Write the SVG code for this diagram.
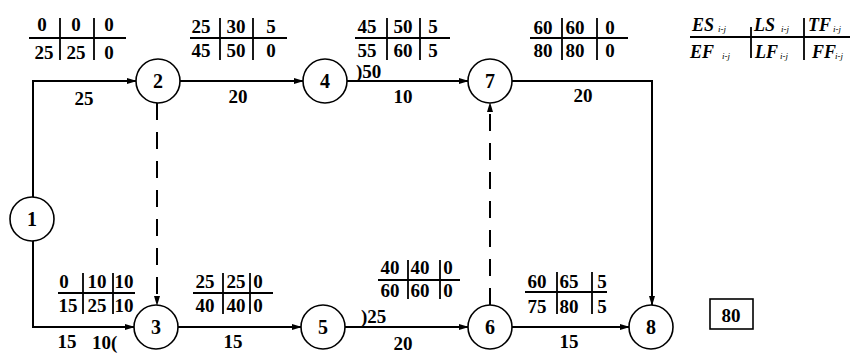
<svg xmlns="http://www.w3.org/2000/svg" width="858" height="354" viewBox="0 0 858 354">
<style>
.n circle{fill:#fff;stroke:#000;stroke-width:1.6}
.n text{font-family:"Liberation Serif",serif;font-weight:bold;font-size:20px;text-anchor:middle}
.e{fill:none;stroke:#000;stroke-width:2}
.d{fill:none;stroke:#000;stroke-width:2;stroke-dasharray:17 12}
.t{font-family:"Liberation Serif",serif;font-weight:bold;font-size:19px;text-anchor:middle}
.l{font-family:"Liberation Serif",serif;font-weight:bold;font-size:19px}
.g line{stroke:#000;stroke-width:1.8}
.lg{font-family:"Liberation Serif",serif;font-weight:bold;font-style:italic;font-size:18px}
.sb{font-family:"Liberation Serif",serif;font-style:italic;font-size:9px}
</style>
<defs>
<marker id="a" markerUnits="userSpaceOnUse" markerWidth="10" markerHeight="6" refX="9" refY="3" orient="auto">
<path d="M0,0 L10,3 L0,6 z" fill="#000"/>
</marker>
</defs>
<g id="connectors">
<path class="e" d="M33,197 V81 H136" marker-end="url(#a)"/>
<path class="e" d="M33,241 V327 H134" marker-end="url(#a)"/>
<path class="e" d="M180,81 H303" marker-end="url(#a)"/>
<path class="e" d="M347,81 H468" marker-end="url(#a)"/>
<path class="e" d="M512,81 H652 V305" marker-end="url(#a)"/>
<path class="d" d="M157,103 V305" marker-end="url(#a)"/>
<path class="d" d="M490,305 V103" marker-end="url(#a)"/>
<path class="e" d="M178,327 H301" marker-end="url(#a)"/>
<path class="e" d="M345,327 H468" marker-end="url(#a)"/>
<path class="e" d="M512,327 H629" marker-end="url(#a)"/>
<text class="t" x="84" y="105">25</text>
<text class="t" x="238" y="103">20</text>
<text class="t" x="403" y="103">10</text>
<text class="l" x="356" y="78">)50</text>
<text class="t" x="583" y="102">20</text>
<text class="t" x="67" y="348">15</text>
<text class="l" x="92" y="349">10(</text>
<text class="t" x="233" y="348">15</text>
<text class="t" x="403" y="350">20</text>
<text class="l" x="361" y="323">)25</text>
<text class="t" x="569" y="348">15</text>
</g>
<g id="n1" class="n"><circle cx="32" cy="219" r="22"/><text x="32" y="226">1</text></g>
<g id="n2" class="n"><circle cx="158" cy="81" r="22"/><text x="158" y="88">2</text></g>
<g id="n4" class="n"><circle cx="325" cy="81" r="22"/><text x="325" y="88">4</text></g>
<g id="n7" class="n"><circle cx="490" cy="81" r="22"/><text x="490" y="88">7</text></g>
<g id="n3" class="n"><circle cx="156" cy="327" r="22"/><text x="156" y="334">3</text></g>
<g id="n5" class="n"><circle cx="323" cy="327" r="22"/><text x="323" y="334">5</text></g>
<g id="n6" class="n"><circle cx="490" cy="327" r="22"/><text x="490" y="334">6</text></g>
<g id="n8" class="n"><circle cx="651" cy="327" r="22"/><text x="651" y="334">8</text></g>
<g id="t12" class="g">
<line x1="29" y1="38" x2="126" y2="38"/><line x1="60" y1="18" x2="60" y2="60"/><line x1="94" y1="18" x2="94" y2="60"/>
<text class="t" x="42" y="31">0</text><text class="t" x="76" y="31">0</text><text class="t" x="109" y="31">0</text>
<text class="t" x="44" y="59">25</text><text class="t" x="76" y="59">25</text><text class="t" x="109" y="59">0</text>
</g>
<g id="t24" class="g">
<line x1="190" y1="38" x2="287" y2="38"/><line x1="220" y1="18" x2="220" y2="60"/><line x1="253" y1="18" x2="253" y2="60"/>
<text class="t" x="201" y="33">25</text><text class="t" x="236" y="33">30</text><text class="t" x="271" y="33">5</text>
<text class="t" x="201" y="57">45</text><text class="t" x="236" y="57">50</text><text class="t" x="271" y="57">0</text>
</g>
<g id="t47" class="g">
<line x1="355" y1="38" x2="450" y2="38"/><line x1="387" y1="18" x2="387" y2="60"/><line x1="420" y1="18" x2="420" y2="60"/>
<text class="t" x="367" y="33">45</text><text class="t" x="403" y="33">50</text><text class="t" x="433" y="33">5</text>
<text class="t" x="367" y="57">55</text><text class="t" x="403" y="57">60</text><text class="t" x="433" y="57">5</text>
</g>
<g id="t78" class="g">
<line x1="530" y1="38" x2="628" y2="38"/><line x1="562" y1="18" x2="562" y2="60"/><line x1="597" y1="18" x2="597" y2="60"/>
<text class="t" x="543" y="34">60</text><text class="t" x="575" y="34">60</text><text class="t" x="610" y="34">0</text>
<text class="t" x="543" y="57">80</text><text class="t" x="575" y="57">80</text><text class="t" x="610" y="57">0</text>
</g>
<g id="t13" class="g">
<line x1="58" y1="293" x2="135" y2="293"/><line x1="83" y1="273" x2="83" y2="314"/><line x1="113" y1="273" x2="113" y2="314"/>
<text class="t" x="64" y="288">0</text><text class="t" x="97" y="288">10</text><text class="t" x="124" y="288">10</text>
<text class="t" x="68" y="312">15</text><text class="t" x="97" y="312">25</text><text class="t" x="124" y="312">10</text>
</g>
<g id="t35" class="g">
<line x1="193" y1="293" x2="273" y2="293"/><line x1="223" y1="273" x2="223" y2="314"/><line x1="250" y1="273" x2="250" y2="314"/>
<text class="t" x="205" y="288">25</text><text class="t" x="236" y="288">25</text><text class="t" x="258" y="288">0</text>
<text class="t" x="205" y="312">40</text><text class="t" x="236" y="312">40</text><text class="t" x="258" y="312">0</text>
</g>
<g id="t56" class="g">
<line x1="378" y1="280" x2="460" y2="280"/><line x1="408" y1="260" x2="408" y2="299"/><line x1="440" y1="260" x2="440" y2="299"/>
<text class="t" x="390" y="274">40</text><text class="t" x="420" y="274">40</text><text class="t" x="448" y="274">0</text>
<text class="t" x="390" y="297">60</text><text class="t" x="420" y="297">60</text><text class="t" x="448" y="297">0</text>
</g>
<g id="t68" class="g">
<line x1="525" y1="292" x2="607" y2="292"/><line x1="557" y1="272" x2="557" y2="314"/><line x1="592" y1="272" x2="592" y2="314"/>
<text class="t" x="537" y="288">60</text><text class="t" x="569" y="288">65</text><text class="t" x="602" y="288">5</text>
<text class="t" x="537" y="313">75</text><text class="t" x="569" y="313">80</text><text class="t" x="602" y="313">5</text>
</g>
<g id="total">
<rect x="710" y="299" width="43" height="30" fill="none" stroke="#000" stroke-width="1.6"/>
<text class="t" x="731" y="322">80</text>
</g>
<g id="legend" class="g">
<line x1="690" y1="37" x2="850" y2="37"/><line x1="751" y1="27" x2="751" y2="58"/><line x1="804" y1="18" x2="804" y2="60"/>
<text class="lg" x="692" y="31">ES</text><text class="sb" x="718" y="32">i-j</text>
<text class="lg" x="754" y="31">LS</text><text class="sb" x="781" y="32">i-j</text>
<text class="lg" x="808" y="31">TF</text><text class="sb" x="833" y="32">i-j</text>
<text class="lg" x="690" y="58">EF</text><text class="sb" x="722" y="59">i-j</text>
<text class="lg" x="755" y="58">LF</text><text class="sb" x="780" y="59">i-j</text>
<text class="lg" x="812" y="58">FF</text><text class="sb" x="835" y="59">i-j</text>
</g>
</svg>
